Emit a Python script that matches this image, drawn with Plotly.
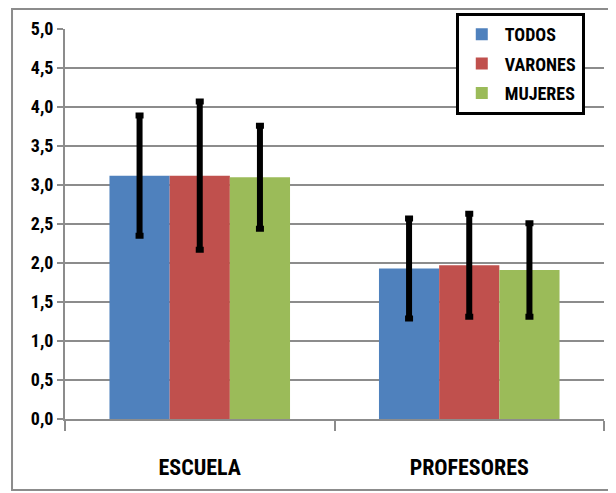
import plotly.graph_objects as go

categories = ["ESCUELA", "PROFESORES"]
series_names = ["TODOS", "VARONES", "MUJERES"]
means = {
    "TODOS": [3.12, 1.93],
    "VARONES": [3.12, 1.97],
    "MUJERES": [3.10, 1.91],
}
errors = {
    "TODOS": [0.77, 0.64],
    "VARONES": [0.95, 0.66],
    "MUJERES": [0.66, 0.60],
}
colors = {"TODOS": "#4F81BD", "VARONES": "#C0504D", "MUJERES": "#9BBB59"}
y_ticks = [0, 0.5, 1, 1.5, 2, 2.5, 3, 3.5, 4, 4.5, 5]

FONT = "Liberation Sans Narrow, Roboto Condensed, Arial Narrow, Liberation Sans, sans-serif"

fig = go.Figure()
for s in series_names:
    fig.add_trace(go.Bar(
        x=categories, y=means[s], name=s, legendgroup=s,
        marker=dict(color=colors[s], line=dict(width=0)),
        error_y=dict(type="data", array=errors[s], visible=True,
                     color="black", thickness=6, width=4),
    ))

fig.update_layout(
    width=608, height=485,
    margin=dict(l=57, r=12, t=21, b=74, autoexpand=False),
    paper_bgcolor="white", plot_bgcolor="white",
    barmode="group", bargap=0.33, bargroupgap=0,
    separators=",.",
    font=dict(family=FONT, color="black"),
    legend=dict(
        x=0.725, y=1.041, xanchor="left", yanchor="top",
        bgcolor="white", bordercolor="black", borderwidth=3,
        font=dict(family=FONT, size=18, color="black", weight="bold"),
        itemwidth=36, tracegroupgap=3,
    ),
    showlegend=True,
)
fig.update_yaxes(
    range=[0, 5], tickvals=y_ticks, tickformat=".1f",
    showgrid=True, gridcolor="#8C8C8C", gridwidth=2,
    showline=True, linecolor="#8C8C8C", linewidth=2,
    ticks="outside", ticklen=6, tickcolor="#8C8C8C", tickwidth=2,
    tickfont=dict(family=FONT, size=18, color="black", weight="bold"),
    zeroline=False,
)
fig.update_xaxes(
    showline=True, linecolor="#8C8C8C", linewidth=2,
    ticks="outside", tickson="boundaries", ticklen=10,
    tickcolor="#8C8C8C", tickwidth=2,
    tickfont=dict(family=FONT, size=22, color="black", weight="bold"),
    ticklabelstandoff=28,
)
# outer chart border
fig.add_shape(type="rect", xref="paper", yref="paper",
              x0=-0.0983, x1=1.0148, y0=-0.182, y1=1.0513,
              line=dict(color="#8C8C8C", width=2), fillcolor="rgba(0,0,0,0)",
              layer="below")

fig.write_html("out.html")
